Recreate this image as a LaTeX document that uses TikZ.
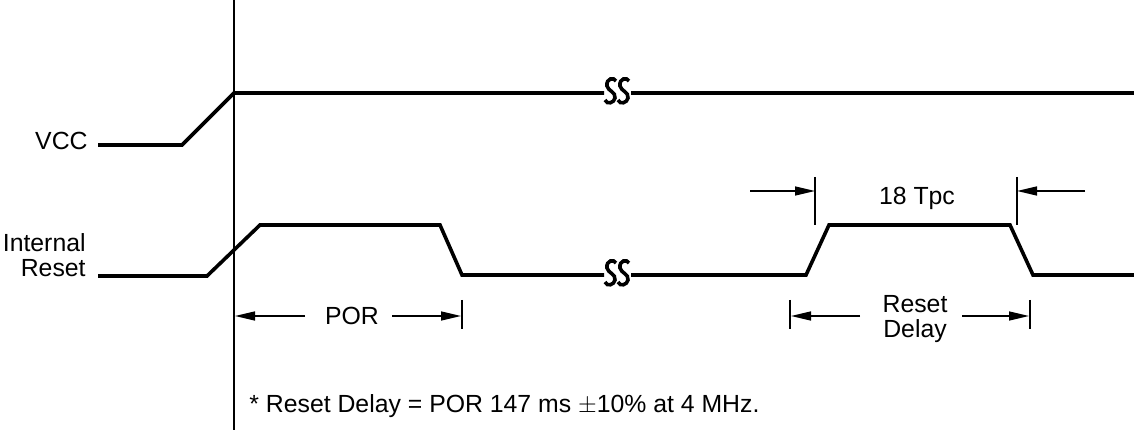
\documentclass[tikz,border=0pt]{standalone}
\usepackage{fontspec}
\setmainfont{Liberation Sans}
\usetikzlibrary{arrows.meta}

\tikzset{
  sig/.style={line width=1.8pt, line join=miter},
  dimarrow/.style={line width=0.75pt, -{Triangle[length=10pt,width=4.5pt]}},
  dimtick/.style={line width=0.75pt},
  brk/.style={line width=1.8pt},
  lbl/.style={font=\fontsize{12.4}{12.5}\selectfont, inner sep=0pt}
}

\begin{document}
\begin{tikzpicture}[x=0.5pt, y=-0.5pt]
        \useasboundingbox (0,0) rectangle (1134,432);

        % time marker
        \coordinate (T0) at (234,0);
        \coordinate (T1) at (234,430);
        \draw[line width=0.6pt] (T0) -- (T1);

        % signal names
        \node[lbl, anchor=east] (vcc) at (88,141) {VCC};
        \node[lbl, anchor=east, align=right] (rst) at (86,255) {Internal\\Reset};

        % VCC waveform
        \coordinate (V1) at (98,145);
        \coordinate (V2) at (182,145);
        \coordinate (V3) at (234,93);
        \coordinate (V4) at (604,93);
        \coordinate (V5) at (631,93);
        \coordinate (V6) at (1134,93);
        \draw[sig] (V1) -- (V2) -- (V3) -- (V4);
        \draw[sig] (V5) -- (V6);

        % Internal Reset waveform
        \coordinate (R1) at (98,276);
        \coordinate (R2) at (207,276);
        \coordinate (R3) at (260,225);
        \coordinate (R4) at (440,225);
        \coordinate (R5) at (462,275);
        \coordinate (R6) at (604,275);
        \coordinate (R7) at (631,275);
        \coordinate (R8) at (806,275);
        \coordinate (R9) at (829,225);
        \coordinate (R10) at (1010,225);
        \coordinate (R11) at (1033,275);
        \coordinate (R12) at (1134,275);
        \draw[sig] (R1) -- (R2) -- (R3) -- (R4) -- (R5) -- (R6);
        \draw[sig] (R7) -- (R8) -- (R9) -- (R10) -- (R11) -- (R12);

        % break marks
        \foreach \cx/\cy in {611/91, 624/91, 611/273, 624/273} {
          \draw[brk] (\cx+5,\cy-10) .. controls (\cx+3,\cy-14) and (\cx-5,\cy-13) .. (\cx-4,\cy-5)
                     .. controls (\cx-3,\cy) and (\cx+5,\cy+1) .. (\cx+4,\cy+7)
                     .. controls (\cx+3,\cy+12) and (\cx-4,\cy+14) .. (\cx-6,\cy+9);
        }

        % POR
        \node[lbl] (por) at (352,316) {POR};
        \coordinate (P0) at (305,316);
        \coordinate (P1) at (235,316);
        \coordinate (P3) at (392,316);
        \coordinate (P2) at (461,316);
        \coordinate (P2a) at (462,300);
        \coordinate (P2b) at (462,329);
        \draw[dimtick] (P2a) -- (P2b);
        \draw[dimarrow] (P0) -- (P1);
        \draw[dimarrow] (P3) -- (P2);

        % 18 Tpc
        \node[lbl] (tpc) at (917,198) {18 Tpc};
        \coordinate (A1) at (815,177);
        \coordinate (A2) at (815,225);
        \coordinate (A3) at (1017,177);
        \coordinate (A4) at (1017,225);
        \coordinate (A5) at (750,191);
        \coordinate (A6) at (1085,191);
        \coordinate (A7) at (815,191);
        \coordinate (A8) at (1017,191);
        \draw[dimtick] (A1) -- (A2);
        \draw[dimtick] (A3) -- (A4);
        \draw[dimarrow] (A5) -- (A7);
        \draw[dimarrow] (A6) -- (A8);

        % Reset Delay
        \node[lbl, align=center] (dly) at (915,319) {Reset\\Delay};
        \coordinate (D1) at (790,300);
        \coordinate (D2) at (790,329);
        \coordinate (D3) at (1030,300);
        \coordinate (D4) at (1030,329);
        \coordinate (D5) at (860,316);
        \coordinate (D6) at (791,316);
        \coordinate (D7) at (962,316);
        \coordinate (D8) at (1029,316);
        \draw[dimtick] (D1) -- (D2);
        \draw[dimtick] (D3) -- (D4);
        \draw[dimarrow] (D5) -- (D6);
        \draw[dimarrow] (D7) -- (D8);

        % note
        \node[lbl, anchor=west] (note) at (249,406) {* Reset Delay = POR 147 ms $\pm$10\% at 4 MHz.};
\end{tikzpicture}
\end{document}
